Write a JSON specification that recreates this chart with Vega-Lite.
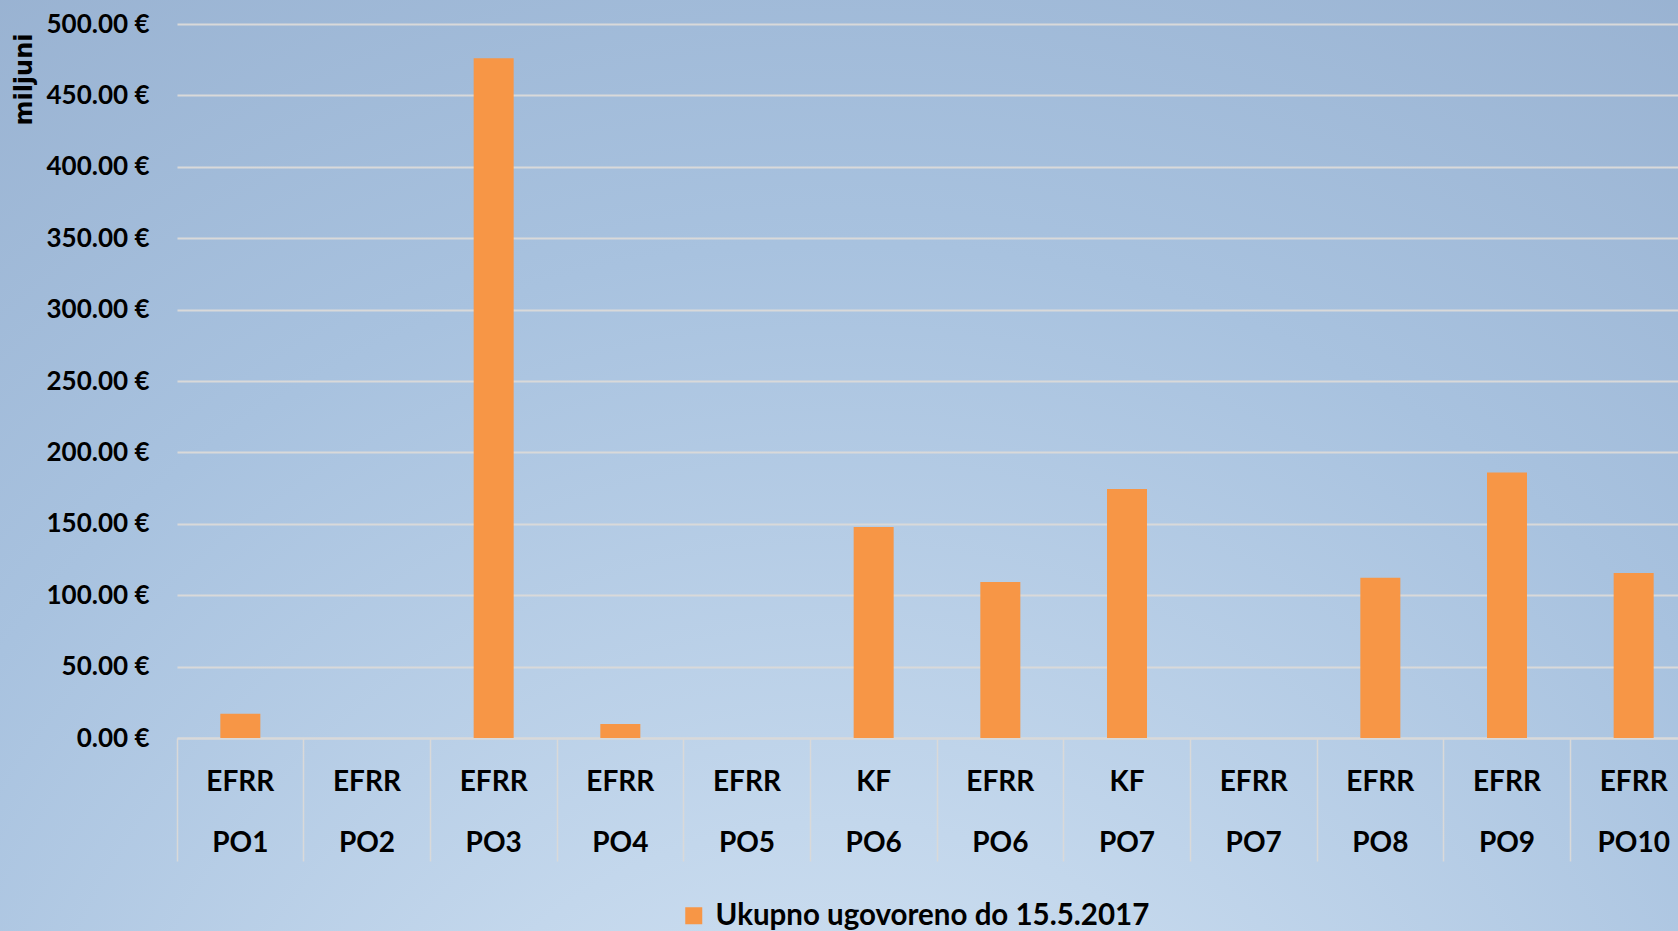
{
  "$schema": "https://vega.github.io/schema/vega-lite/v6.json",
  "width": 1678,
  "height": 931,
  "autosize": "none",
  "padding": 0,
  "background": "#8ea8c9",
  "view": {
    "stroke": null,
    "fill": {
      "gradient": "radial",
      "x1": 0.5, "y1": 1, "r1": 0,
      "x2": 0.5, "y2": 1, "r2": 1.15,
      "stops": [
        {"offset": 0, "color": "#d8e7f5"},
        {"offset": 0.25, "color": "#c3d7ec"},
        {"offset": 0.55, "color": "#a8c2df"},
        {"offset": 1, "color": "#8ea7c8"}
      ]
    }
  },
  "data": {
    "values": [
      {"kat": "EFRR|PO1", "iznos": 17.0, "serija": "Ukupno ugovoreno do 15.5.2017"},
      {"kat": "EFRR|PO2", "iznos": 0, "serija": "Ukupno ugovoreno do 15.5.2017"},
      {"kat": "EFRR|PO3", "iznos": 476.0, "serija": "Ukupno ugovoreno do 15.5.2017"},
      {"kat": "EFRR|PO4", "iznos": 9.8, "serija": "Ukupno ugovoreno do 15.5.2017"},
      {"kat": "EFRR|PO5", "iznos": 0, "serija": "Ukupno ugovoreno do 15.5.2017"},
      {"kat": "KF|PO6", "iznos": 147.7, "serija": "Ukupno ugovoreno do 15.5.2017"},
      {"kat": "EFRR|PO6", "iznos": 109.3, "serija": "Ukupno ugovoreno do 15.5.2017"},
      {"kat": "KF|PO7", "iznos": 174.4, "serija": "Ukupno ugovoreno do 15.5.2017"},
      {"kat": "EFRR|PO7", "iznos": 0, "serija": "Ukupno ugovoreno do 15.5.2017"},
      {"kat": "EFRR|PO8", "iznos": 112.2, "serija": "Ukupno ugovoreno do 15.5.2017"},
      {"kat": "EFRR|PO9", "iznos": 186.0, "serija": "Ukupno ugovoreno do 15.5.2017"},
      {"kat": "EFRR|PO10", "iznos": 115.5, "serija": "Ukupno ugovoreno do 15.5.2017"}
    ]
  },
  "mark": {"type": "bar", "width": 40},
  "encoding": {
    "x": {
      "field": "kat",
      "type": "nominal",
      "sort": null,
      "scale": {"range": [177, 1697], "paddingInner": 0, "paddingOuter": 0},
      "axis": {
        "title": null,
        "orient": "bottom",
        "offset": -193,
        "domain": true,
        "domainColor": "#d9d9d9",
        "domainWidth": 2,
        "ticks": true,
        "tickColor": "#d9d9d9",
        "tickWidth": 1.5,
        "tickSize": 123,
        "bandPosition": 0,
        "grid": false,
        "labelExpr": "split(datum.value, '|')",
        "labelFont": "Lato",
        "labelFontWeight": "bold",
        "labelFontSize": 28,
        "labelColor": "#000000",
        "labelLineHeight": 61,
        "labelAngle": 0,
        "labelBaseline": "top",
        "labelPadding": -93,
        "labelOverlap": false,
        "labelFlush": false
      }
    },
    "y": {
      "field": "iznos",
      "type": "quantitative",
      "scale": {"domain": [0, 500], "range": [738, 24], "nice": false},
      "axis": {
        "orient": "left",
        "offset": -177,
        "values": [0, 50, 100, 150, 200, 250, 300, 350, 400, 450, 500],
        "domain": false,
        "ticks": false,
        "grid": true,
        "gridColor": "#d9d9d9",
        "gridWidth": 2,
        "labelExpr": "format(datum.value, '.2f') + ' €'",
        "labelFont": "Lato",
        "labelFontWeight": "bold",
        "labelFontSize": 26,
        "labelColor": "#000000",
        "labelPadding": 28,
        "title": "miljuni",
        "titleFont": "DejaVu Sans",
        "titleFontWeight": "bold",
        "titleFontSize": 24,
        "titleColor": "#000000",
        "titleAngle": -90,
        "titleAlign": "right",
        "titleBaseline": "middle",
        "titleX": -153,
        "titleY": 33
      }
    },
    "color": {
      "field": "serija",
      "type": "nominal",
      "scale": {"domain": ["Ukupno ugovoreno do 15.5.2017"], "range": ["#F79646"]},
      "legend": {
        "orient": "none",
        "legendX": 679,
        "legendY": 901,
        "title": null,
        "padding": 0,
        "symbolType": "square",
        "symbolSize": 289,
        "symbolStrokeWidth": 0,
        "symbolOpacity": 1,
        "labelFont": "Lato",
        "labelFontWeight": "bold",
        "labelFontSize": 29.5,
        "labelColor": "#000000",
        "labelOffset": 7,
        "labelLimit": 0
      }
    }
  }
}
